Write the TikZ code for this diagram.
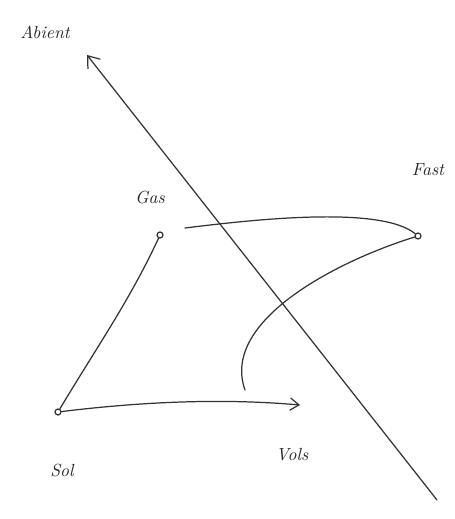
\documentclass[tikz,border=0pt]{standalone}
\usetikzlibrary{arrows.meta}
\begin{document}
\begin{tikzpicture}[x=0.02cm,y=-0.02cm,
  pen/.style={draw=black!80,line width=0.7pt,line cap=round},
  dot/.style={circle,draw=black!80,line width=0.7pt,inner sep=1.2pt},
  lbl/.style={font=\itshape,text=black!85,inner sep=1pt}]
\useasboundingbox (0,0) rectangle (454,519);
% axis line
\coordinate (ax1) at (437,500);
\coordinate (ax2) at (87,55);
\draw[pen,-{Straight Barb[length=6pt,width=9pt]}] (ax1) -- (ax2);
\node[lbl] (abient) at (45,32) {Abient};
% nodes
\node[dot] (sol) at (58,412) {};
\node[dot] (gas) at (160,235) {};
\node[dot] (fast) at (418,236) {};
\coordinate (vols) at (300,405);
\coordinate (turn) at (245,390);
\node[lbl] (gaslbl) at (150,198) {Gas};
\node[lbl] (fastlbl) at (428,170) {Fast};
\node[lbl] (sollbl) at (62,470) {Sol};
\node[lbl] (volslbl) at (292,455) {Vols};
% connectors
\draw[pen] (sol) .. controls (95,350) and (130,300) .. (gas);
\draw[pen,-{Straight Barb[length=5pt,width=7pt]}] (sol) .. controls (140,402) and (220,398) .. (vols);
\draw[pen] (185,228) .. controls (250,220) and (380,205) .. (fast);
\draw[pen] (fast) .. controls (340,260) and (220,320) .. (turn);
\end{tikzpicture}
\end{document}
